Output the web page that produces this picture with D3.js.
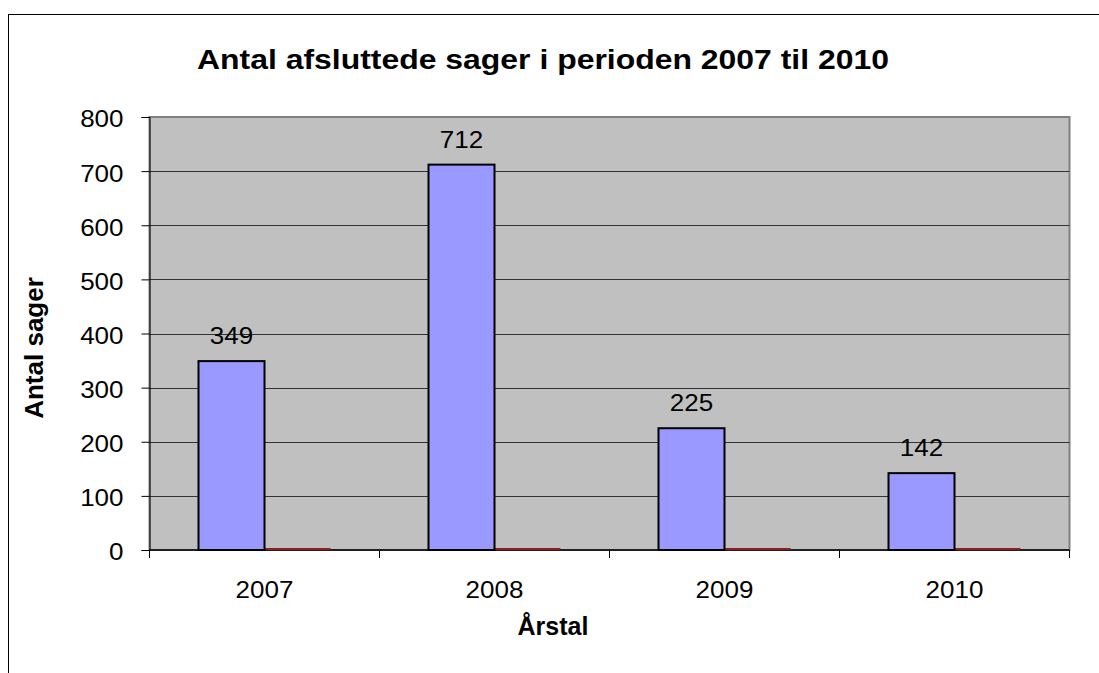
<!DOCTYPE html>
<html>
<head>
<meta charset="utf-8">
<script src="https://cdn.jsdelivr.net/npm/d3@7"></script>
<style>
    body { margin: 0; background: #fff; }
    text { font-family: Arial, "Liberation Sans", sans-serif; fill: #000; }
</style>
</head>
<body>
<div id="chart"></div>
<script>
var years = ["2007", "2008", "2009", "2010"];
var sager = [349, 712, 225, 142];
var series2 = [0, 0, 0, 0];
var yTicks = [0, 100, 200, 300, 400, 500, 600, 700, 800];

var width = 1099, height = 673;
var plot = {left: 149.5, top: 117, right: 1069.5, bottom: 550};

// the original picture has its text a bit wider than normal
function stretch(sel, k) {
    sel.each(function () {
        var w = this.getComputedTextLength();
        d3.select(this)
            .attr("textLength", w * k)
            .attr("lengthAdjust", "spacingAndGlyphs");
    });
}

var svg = d3.select("#chart").append("svg")
    .attr("width", width)
    .attr("height", height);

// outer chart frame (runs off the page right and bottom)
svg.append("rect")
    .attr("x", 8.5).attr("y", 14.5)
    .attr("width", 1200).attr("height", 800)
    .style("fill", "none").style("stroke", "#000").style("stroke-width", 1);

var x = d3.scaleBand().domain(years).range([plot.left, plot.right]);
var y = d3.scaleLinear().domain([0, 800]).range([plot.bottom, plot.top]);
var barW = 66;

// plot area
svg.append("rect")
    .attr("x", plot.left).attr("y", plot.top)
    .attr("width", plot.right - plot.left).attr("height", plot.bottom - plot.top)
    .style("fill", "#c0c0c0").style("stroke", "#808080").style("stroke-width", 2);

svg.selectAll("line.grid")
    .data(yTicks.slice(1, -1))
    .enter().append("line")
    .attr("class", "grid")
    .attr("x1", plot.left).attr("x2", plot.right)
    .attr("y1", function (d) { return Math.round(y(d)) + 0.5; })
    .attr("y2", function (d) { return Math.round(y(d)) + 0.5; })
    .style("stroke", "#333").style("stroke-width", 1);

// y axis
var yAxis = svg.append("g")
    .attr("transform", "translate(" + plot.left + ",0)")
    .call(d3.axisLeft(y).tickValues(yTicks).tickSize(8).tickPadding(18));
yAxis.select(".domain").style("stroke", "#000");
yAxis.selectAll(".tick line").style("stroke", "#000");
yAxis.selectAll("text")
    .style("font-size", "23px").style("font-family", "Arial, 'Liberation Sans', sans-serif")
    .attr("dy", "0.43em");
stretch(yAxis.selectAll("text"), 1.13);

// x axis: ticks between categories
var xAxis = svg.append("g")
    .attr("transform", "translate(0," + plot.bottom + ")");
xAxis.append("line")
    .attr("x1", plot.left).attr("x2", plot.right)
    .style("stroke", "#000").style("stroke-width", 1.5);
var bounds = years.map(function (d) { return x(d); }).concat([plot.right]);
xAxis.selectAll("line.tick")
    .data(bounds)
    .enter().append("line")
    .attr("class", "tick")
    .attr("x1", function (d) { return d; }).attr("x2", function (d) { return d; })
    .attr("y1", 0).attr("y2", 8)
    .style("stroke", "#000");
xAxis.selectAll("text")
    .data(years)
    .enter().append("text")
    .attr("x", function (d) { return x(d) + x.bandwidth() / 2; })
    .attr("y", 48)
    .attr("text-anchor", "middle")
    .style("font-size", "23px")
    .text(function (d) { return d; });
stretch(xAxis.selectAll("text"), 1.13);

// second series (all zero)
svg.selectAll("rect.s2")
    .data(series2)
    .enter().append("rect")
    .attr("class", "s2")
    .attr("x", function (d, i) { return x(years[i]) + x.bandwidth() / 2; })
    .attr("y", function (d) { return y(d) - 2; })
    .attr("width", barW)
    .attr("height", 2)
    .style("fill", "#8b2020");

// bars
svg.selectAll("rect.bar")
    .data(sager)
    .enter().append("rect")
    .attr("class", "bar")
    .attr("x", function (d, i) { return x(years[i]) + x.bandwidth() / 2 - barW; })
    .attr("y", function (d) { return y(d); })
    .attr("width", barW)
    .attr("height", function (d) { return y(0) - y(d); })
    .style("fill", "#9999ff").style("stroke", "#000").style("stroke-width", 2);

svg.selectAll("text.lbl")
    .data(sager)
    .enter().append("text")
    .attr("class", "lbl")
    .attr("x", function (d, i) { return x(years[i]) + x.bandwidth() / 2 - barW / 2; })
    .attr("y", function (d) { return y(d) - 17; })
    .attr("text-anchor", "middle")
    .style("font-size", "23px")
    .text(function (d) { return d; });
stretch(svg.selectAll("text.lbl"), 1.13);

// titles
var title = svg.append("text")
    .attr("x", 543).attr("y", 69)
    .attr("text-anchor", "middle")
    .style("font-size", "28px").style("font-weight", "bold")
    .text("Antal afsluttede sager i perioden 2007 til 2010");
stretch(title, 1.14);

svg.append("text")
    .attr("transform", "translate(43,348) rotate(-90)")
    .attr("text-anchor", "middle")
    .style("font-size", "26px").style("font-weight", "bold")
    .text("Antal sager");

svg.append("text")
    .attr("x", 553).attr("y", 635)
    .attr("text-anchor", "middle")
    .style("font-size", "25px").style("font-weight", "bold")
    .text("Årstal");
</script>
</body>
</html>
